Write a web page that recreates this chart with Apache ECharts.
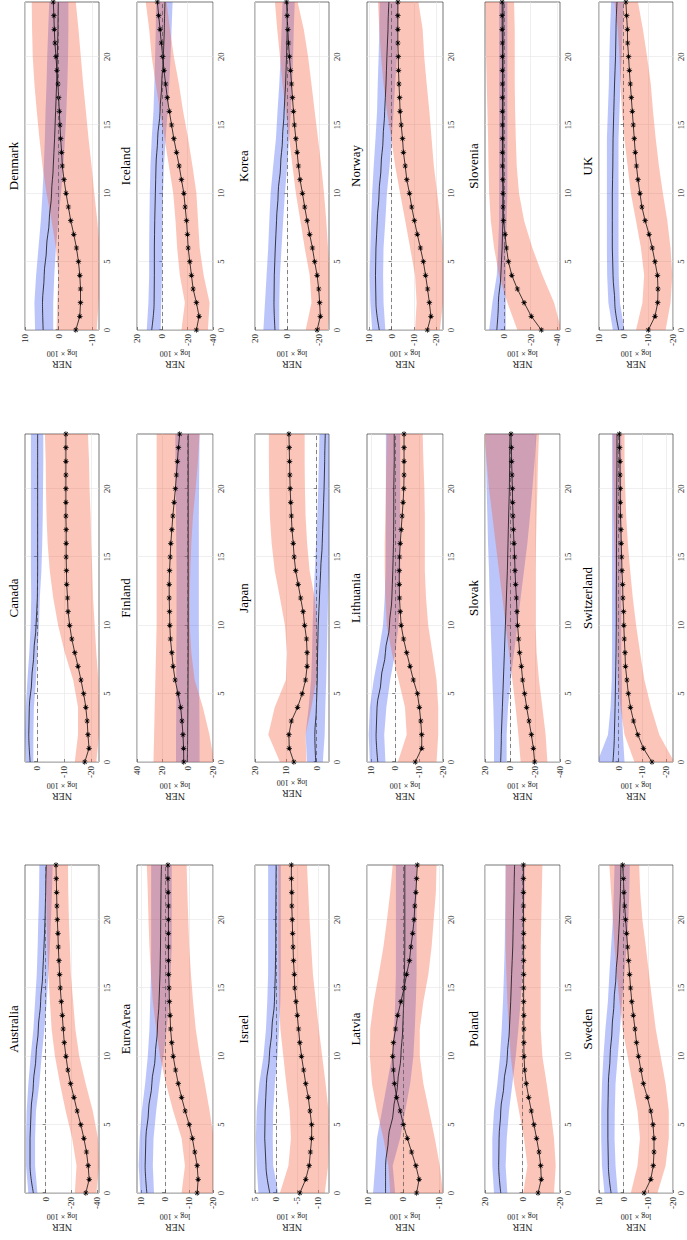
<!DOCTYPE html>
<html><head><meta charset="utf-8">
<script src="https://cdn.jsdelivr.net/npm/echarts@6/dist/echarts.min.js"></script>
<style>
html,body{margin:0;padding:0;background:#fff;overflow:hidden;width:687px;height:1240px;}
#wrap{position:absolute;left:0;top:0;width:1240px;height:687px;transform-origin:0 0;transform:translate(0px,1240px) rotate(-90deg);}
#chart{width:1240px;height:687px;}
</style></head><body>
<div id="wrap"><div id="chart"></div></div>
<script>
// ---------------- data ----------------
const HORIZONS = [0,1,2,3,4,5,6,7,8,9,10,11,12,13,14,15,16,17,18,19,20,21,22,23,24];
const BAND_HORIZONS = [0,2,4,6,8,10,12,14,16,18,20,22,24];
const X_TICKS = [0,5,10,15,20];
const COUNTRIES = ['Australia','Canada','Denmark','EuroArea','Finland','Iceland','Israel','Japan','Korea',
  'Latvia','Lithuania','Norway','Poland','Slovak','Slovenia','Sweden','Switzerland','UK'];
const Y_MIN = [-41.3,-23,-12,-20,-20,-40,-12.5,-4,-26,-11.1,-20,-23,-20,-40,-42,-20,-23,-20];
const Y_MAX = [16,4.5,10,11.7,40,20,5,20,20,10.2,11.8,11,20,20,14,10,8.3,10];
const Y_TICKS = [[-40,-20,0],[-20,-10,0],[-10,0,10],[-20,-10,0,10],[-20,0,20,40],[-40,-20,0,20],
  [-10,-5,0,5],[0,10,20],[-20,0,20],[-10,0,10],[-20,-10,0,10],[-20,-10,0,10],[-20,0,20],
  [-40,-20,0,20],[-40,-20,0],[-20,-10,0,10],[-20,-10,0],[-20,-10,0,10]];

// Australia
const AUS_BLUE_MED = [9.5,12.1,12.1,11.3,9.5,7.5,5.7,3.9,2.3,1.3,0.5,0,-0.5];
const AUS_BLUE_HI  = [13.4,15.2,15.2,14.7,13.4,11.6,9.5,8.2,6.9,6.2,5.7,5.1,4.9];
const AUS_BLUE_LO  = [6.4,8.2,8.2,7.5,4.9,3.1,1.0,-0.8,-2.1,-3.3,-4.1,-4.9,-5.4];
const AUS_RED_MED  = [-31.1,-33.7,-32.9,-31.6,-29.6,-27.2,-24.4,-21.9,-19.3,-17.2,-15.7,-14.4,-13.6,-12.9,-12.1,-11.3,-10.8,-10.3,-9.8,-9.5,-9.0,-8.7,-8.5,-8.2,-8.0];
const AUS_RED_HI   = [-22.6,-23.9,-20.5,-15.5,-11.1,-7.2,-4.6,-3.3,-2.1,-1.3,-0.8,-0.3,-0.3];
const AUS_RED_LO   = [-39.3,-41.3,-40.5,-36.5,-31.0,-26.0,-23.0,-21.3,-19.5,-18.8,-18.0,-17.5,-17.3];
// Canada
const CAN_BLUE_MED = [2.6,3.1,2.9,2.0,1.2,0.4,-0.1,-0.2,-0.2,-0.2,-0.2,-0.2,-0.2];
const CAN_BLUE_HI  = [4.1,4.5,4.2,3.6,2.9,2.4,2.2,2.3,2.3,2.3,2.3,2.3,2.3];
const CAN_BLUE_LO  = [1.4,1.4,1.2,0.4,-0.1,-0.7,-1.0,-1.6,-1.9,-2.1,-2.2,-2.3,-2.3];
const CAN_RED_MED  = [-17.7,-19.3,-18.9,-18.6,-18.1,-17.3,-16.3,-15.2,-14.0,-12.9,-12.1,-11.5,-11.3,-11.0,-10.9,-10.8,-10.8,-10.8,-10.7,-10.7,-10.7,-10.7,-10.7,-10.7,-10.7];
const CAN_RED_HI   = [-14.0,-15.2,-15.2,-13.4,-10.3,-7.8,-6.0,-4.7,-3.9,-3.5,-3.3,-3.2,-2.9];
const CAN_RED_LO   = [-22.0,-23.0,-23.0,-22.8,-22.0,-21.4,-20.8,-20.5,-20.1,-19.9,-19.5,-19.3,-18.9];
// Denmark
const DNK_BLUE_MED = [4.6,4.8,4.3,3.6,2.8,2.1,1.6,1.2,0.9,0.6,0.4,0.2,0.1];
const DNK_BLUE_HI  = [7.0,7.2,6.7,6.0,5.3,4.8,4.4,4.1,3.9,3.6,3.4,3.1,2.8];
const DNK_BLUE_LO  = [1.6,1.6,1.3,0.8,0.1,-0.7,-1.4,-1.9,-2.3,-2.6,-2.8,-2.9,-2.9];
const DNK_RED_MED  = [-5.1,-6.3,-6.5,-6.5,-6.3,-5.9,-5.3,-4.5,-3.6,-2.9,-2.2,-1.6,-1.1,-0.9,-0.6,-0.4,-0.2,0,0.2,0.5,0.8,1.1,1.3,1.4,1.6];
const DNK_RED_HI   = [0.6,0.4,0.1,0.8,2.1,3.6,4.8,5.7,6.5,7.2,7.7,7.9,8.0];
const DNK_RED_LO   = [-11.3,-11.9,-12.3,-12.2,-11.5,-10.6,-9.8,-8.9,-8.1,-7.3,-6.6,-5.9,-5.1];
// EuroArea
const EA_BLUE_MED = [7.6,8.3,8.0,6.9,5.5,4.1,3.2,2.5,2.1,1.9,1.8,1.7,1.5];
const EA_BLUE_HI  = [10.3,11.0,10.6,9.7,8.3,7.2,6.5,6.2,5.9,5.8,5.8,5.8,5.8];
const EA_BLUE_LO  = [4.6,5.1,4.8,3.7,2.3,0.7,-0.7,-1.8,-2.3,-2.8,-2.8,-2.8,-2.8];
const EA_RED_MED  = [-13.4,-13.8,-13.4,-12.4,-11.4,-10.1,-8.4,-6.9,-5.5,-4.4,-3.4,-2.8,-2.3,-2.1,-1.8,-1.7,-1.5,-1.4,-1.4,-1.4,-1.4,-1.4,-1.3,-1.2,-1.2];
const EA_RED_HI   = [-6.9,-8.3,-6.9,-3.4,-0.4,2.1,3.7,5.1,5.9,6.5,6.9,7.2,7.6];
const EA_RED_LO   = [-20.5,-20.5,-20.3,-18.6,-16.6,-14.5,-12.8,-11.7,-10.8,-10.1,-9.7,-9.3,-9.0];
// Finland
const FIN_BLUE_MED = [0.3,0,-0.2,-0.3,-0.4,-0.4,-0.4,-0.4,-0.4,-0.4,-0.4,-0.4,-0.4];
const FIN_BLUE_HI  = [9.2,9.2,9.0,9.0,9.0,8.8,8.8,8.8,9.0,9.2,9.4,9.6,9.8];
const FIN_BLUE_LO  = [-9.4,-9.4,-9.2,-9.0,-9.0,-8.8,-8.8,-8.8,-8.8,-8.8,-9.0,-9.2,-9.4];
const FIN_RED_MED  = [3.1,3.2,3.7,4.5,5.5,7.6,9.9,11.5,12.5,13.6,14.1,14.3,14.6,14.6,14.3,13.8,13.3,12.5,11.7,10.7,9.7,8.9,8.1,7.3,6.3];
const FIN_RED_HI   = [27,26.5,26,25.5,25,24.5,24.5,24.5,24.5,24.5,24.5,24.5,24.5];
const FIN_RED_LO   = [-21,-17.2,-12.0,-5.5,-2.9,-1.6,-1.6,-2.1,-2.9,-4.2,-6.3,-8.1,-9.4];
// Iceland
const ISL_BLUE_MED = [8.4,6.5,6.3,6.3,6.0,5.5,5.0,3.7,1.8,0.5,-0.8,-1.6,-2.1];
const ISL_BLUE_HI  = [12.3,11.0,10.4,10.4,10.2,9.9,9.4,8.4,7.0,6.3,5.7,5.2,5.0];
const ISL_BLUE_LO  = [1.3,0.8,0.3,0.3,0,-0.5,-1.3,-2.6,-4.2,-5.5,-6.5,-7.3,-8.1];
const ISL_RED_MED  = [-26.9,-29.0,-26.9,-24.3,-23.0,-21.7,-20.4,-19.8,-19.1,-18.0,-17.0,-15.1,-13.3,-11.2,-9.1,-7.3,-5.5,-3.9,-2.6,-1.3,-0.3,0.8,1.8,2.9,3.9];
const ISL_RED_HI   = [-15.1,-17.8,-13.8,-11.7,-10.4,-8.6,-5.2,-1.8,1.8,5.2,8.4,10.4,13.1];
const ISL_RED_LO   = [-36.0,-37.3,-32.6,-29.5,-28.2,-26.9,-23.8,-20.4,-16.4,-13.1,-9.1,-6.0,-3.4];
// Israel
const ISR_BLUE_MED = [1.5,2.4,2.7,2.6,2.3,1.6,1.0,0.4,0.2,0.1,0.1,0.05,0];
const ISR_BLUE_HI  = [4.2,4.6,4.8,4.6,4.0,3.0,2.4,2.1,1.9,1.9,1.9,1.9,1.9];
const ISR_BLUE_LO  = [-0.5,0.7,0.8,0.7,0.3,-0.3,-0.7,-1.0,-1.1,-1.1,-1.1,-1.1,-1.1];
const ISR_RED_MED  = [-5.6,-7.0,-7.8,-8.1,-8.4,-8.4,-8.0,-7.6,-7.0,-6.5,-6.0,-5.6,-5.3,-5.0,-4.7,-4.4,-4.3,-4.1,-4.0,-3.9,-3.8,-3.7,-3.7,-3.6,-3.6];
const ISR_RED_HI   = [-0.9,-2.9,-3.5,-3.2,-2.4,-1.7,-1.0,-0.7,-0.6,-0.5,-0.5,-0.5,-0.5];
const ISR_RED_LO   = [-11.5,-12.3,-12.5,-12.4,-11.7,-10.9,-10.1,-9.4,-8.7,-8.3,-7.9,-7.6,-7.3];
// Japan
const JPN_BLUE_MED = [0.3,0.6,0.1,-0.2,-0.3,-0.5,-0.9,-1.3,-1.8,-2.1,-2.4,-2.6,-2.8];
const JPN_BLUE_HI  = [3.1,3.6,2.6,1.8,1.5,1.3,1.0,0.6,0.2,-0.2,-0.5,-0.7,-0.9];
const JPN_BLUE_LO  = [-2.0,-2.6,-2.8,-3.1,-3.3,-3.5,-3.7,-4.0,-4.3,-4.5,-4.6,-4.7,-4.8];
const JPN_RED_MED  = [7.4,8.9,9.0,8.2,6.2,4.7,3.6,3.1,3.1,3.3,3.9,4.4,5.2,6.0,6.8,7.3,7.6,8.0,8.2,8.4,8.6,8.7,8.8,8.9,9.0];
const JPN_RED_HI   = [11.9,15.7,13.6,10.0,9.6,10.3,11.9,13.6,14.6,15.2,15.4,15.5,15.5];
const JPN_RED_LO   = [3.3,3.6,1.7,0.1,-0.4,-0.1,0.6,2.3,3.1,3.6,3.8,3.9,3.9];
// Korea
const KOR_BLUE_MED = [7.6,8.2,8.0,7.4,6.6,5.6,4.1,2.9,1.9,1.0,0.4,0,-0.2];
const KOR_BLUE_HI  = [14.8,13.8,12.8,11.8,11.1,10.3,8.7,7.0,6.0,4.9,4.1,3.5,2.9];
const KOR_BLUE_LO  = [4.9,4.9,4.5,3.5,2.5,1.4,0,-1.2,-2.3,-3.1,-3.7,-4.1,-4.7];
const KOR_RED_MED  = [-18.6,-20.6,-20.2,-19.6,-18.6,-17.1,-15.7,-14.0,-12.4,-10.9,-9.5,-8.0,-7.0,-6.2,-5.4,-4.5,-3.9,-3.3,-2.7,-2.1,-1.4,-0.8,-0.4,0,0.4];
const KOR_RED_HI   = [-11.5,-15.1,-14.0,-10.9,-8.2,-5.4,-3.3,-1.2,0.8,2.9,4.5,6.2,7.6];
const KOR_RED_LO   = [-25.4,-26.5,-26.5,-25.4,-24.3,-22.9,-21.2,-19.2,-17.1,-15.1,-13.0,-10.3,-6.5];
// Latvia
const LVA_BLUE_MED = [5.0,5.0,4.2,2.8,1.6,0.7,0.2,-0.1,-0.3,-0.4,-0.4,-0.4,-0.4];
const LVA_BLUE_HI  = [8.5,7.9,7.4,6.0,4.6,3.2,2.6,2.3,2.1,2.1,2.1,2.1,2.1];
const LVA_BLUE_LO  = [2.3,3.0,0.9,-0.5,-1.9,-2.8,-3.2,-3.5,-3.7,-3.7,-3.7,-3.7,-3.7];
const LVA_RED_MED  = [-3.7,-4.4,-3.5,-2.3,-1.1,0,0.9,1.9,2.5,2.8,3.0,2.8,2.2,1.6,0.7,-0.2,-0.9,-1.7,-2.1,-2.6,-3.0,-3.2,-3.5,-3.7,-3.9];
const LVA_RED_HI   = [3.7,4.2,5.6,7.4,8.8,9.4,9.3,8.3,6.9,5.6,4.6,3.7,3.0];
const LVA_RED_LO   = [-11.1,-10.2,-8.8,-7.2,-5.6,-4.6,-4.6,-5.6,-7.0,-7.9,-8.5,-9.1,-9.3];
// Lithuania
const LTU_BLUE_MED = [7.3,8.0,7.6,5.9,4.1,2.4,1.4,1.0,0.7,0.6,0.6,0.4,0.4];
const LTU_BLUE_HI  = [10.6,11.1,10.6,9.0,6.9,5.1,4.4,4.0,3.9,3.9,3.9,3.9,3.9];
const LTU_BLUE_LO  = [4.1,4.6,3.7,2.1,0,-1.4,-1.8,-2.1,-2.1,-2.1,-2.1,-2.1,-2.1];
const LTU_RED_MED  = [-8.4,-11.1,-11.1,-10.7,-10.1,-9.3,-7.6,-6.2,-4.8,-3.5,-2.5,-2.1,-1.8,-1.7,-1.7,-1.8,-2.1,-2.5,-2.9,-3.3,-3.6,-3.7,-3.7,-3.7,-3.7];
const LTU_RED_HI   = [-1.1,-4.8,-4.1,-1.4,1.4,3.5,4.1,4.4,4.4,4.1,3.9,3.7,3.5];
const LTU_RED_LO   = [-17.3,-18.0,-18.0,-17.3,-15.6,-13.8,-12.9,-12.4,-12.4,-12.4,-12.2,-11.8,-11.5];
// Norway
const NOR_BLUE_MED = [5.5,7.0,7.2,7.0,6.4,5.6,4.7,3.8,3.1,2.5,2.1,1.6,1.2];
const NOR_BLUE_HI  = [8.7,9.5,9.8,9.5,9.2,8.7,8.0,7.2,6.5,6.2,5.8,5.5,5.3];
const NOR_BLUE_LO  = [2.8,3.6,3.8,3.6,2.8,2.1,0.9,-0.1,-0.9,-1.6,-2.4,-2.8,-3.1];
const NOR_RED_MED  = [-16.0,-17.6,-16.9,-16.1,-15.2,-14.2,-12.9,-11.5,-10.2,-9.0,-8.0,-6.8,-6.1,-5.3,-4.9,-4.3,-3.8,-3.6,-3.3,-3.1,-3.0,-2.8,-2.8,-2.8,-2.8];
const NOR_RED_HI   = [-10.5,-11.2,-10.5,-8.3,-6.1,-3.8,-1.6,0.1,2.1,3.6,4.7,5.5,6.1];
const NOR_RED_LO   = [-21.6,-23.0,-23.0,-22.8,-21.9,-20.4,-18.9,-17.9,-16.9,-15.7,-14.6,-13.9,-12.0];
// Poland
const POL_BLUE_MED = [11.6,12.7,12.5,11.6,9.9,8.1,7.0,6.3,5.8,5.2,4.9,4.5,4.2];
const POL_BLUE_HI  = [15.2,16.1,16.1,15.2,13.4,12.0,11.1,10.4,9.9,9.5,9.3,9.1,9.0];
const POL_BLUE_LO  = [8.1,9.0,8.4,7.2,5.4,3.6,2.2,1.0,0.1,-0.4,-0.8,-1.2,-1.3];
const POL_RED_MED  = [-8.3,-10.0,-9.7,-8.8,-7.5,-6.1,-4.7,-3.3,-2.0,-1.2,-0.8,-0.7,-0.7,-0.7,-0.6,-0.6,-0.6,-0.6,-0.6,-0.6,-0.6,-0.5,-0.5,-0.5,-0.5];
const POL_RED_HI   = [-0.4,-2.6,-0.8,1.9,4.5,6.3,7.2,8.1,8.6,9.0,9.0,9.0,9.0];
const POL_RED_LO   = [-16.8,-17.7,-16.8,-15.0,-12.9,-10.6,-9.7,-9.7,-9.7,-9.7,-10.0,-10.3,-10.6];
// Slovak
const SVK_BLUE_MED = [7.5,6.9,6.1,5.3,4.5,3.7,2.9,2.1,1.6,1.1,0.5,0.3,0];
const SVK_BLUE_HI  = [12.8,12.8,13.3,14.1,14.7,15.5,16.3,16.8,17.6,18.1,18.7,19.2,19.5];
const SVK_BLUE_LO  = [2.7,2.7,1.6,-0.5,-3.2,-5.9,-8.5,-11.2,-13.9,-16.0,-17.9,-19.7,-21.3];
const SVK_RED_MED  = [-19.7,-18.7,-17.1,-15.2,-13.3,-11.7,-10.1,-9.1,-7.7,-6.9,-6.1,-5.6,-5.1,-4.5,-4.0,-3.7,-3.2,-2.7,-2.4,-2.1,-1.9,-1.6,-1.3,-1.1,-0.8];
const SVK_RED_HI   = [-8.5,-6.7,-4.5,-1.9,0.8,3.5,6.1,8.8,11.5,14.1,16.8,18.7,20.5];
const SVK_RED_LO   = [-29.9,-28.5,-25.9,-23.2,-21.3,-20.5,-20.5,-20.5,-20.8,-21.3,-21.9,-22.4,-23.2];
// Slovenia
const SVN_BLUE_MED = [5.2,4.0,2.2,1.2,0.7,0.5,0.5,0.5,0.5,0.5,0.5,0.5,0.5];
const SVN_BLUE_HI  = [10.9,8.5,5.2,4.2,3.5,3.5,3.5,3.5,3.5,3.5,3.5,3.5,3.5];
const SVN_BLUE_LO  = [-1.5,-1.5,-1.5,-1.5,-2.2,-2.7,-2.7,-2.7,-2.7,-2.7,-2.7,-2.7,-2.7];
const SVN_RED_MED  = [-28.1,-20.6,-15.2,-10.2,-6.0,-3.5,-2.0,-1.0,0.2,0.5,0.5,0.7,1.0,1.0,1.0,1.0,1.0,1.0,1.0,1.0,1.0,1.0,1.2,1.2,1.2];
const SVN_RED_HI   = [-10.2,-2.7,3.5,7.2,9.7,10.9,11.4,11.7,12.2,12.7,13.2,13.4,13.7];
const SVN_RED_LO   = [-43,-37.6,-28.9,-21.4,-15.2,-11.4,-9.7,-9.0,-8.5,-8.2,-8.2,-8.2,-7.7];
// Sweden
const SWE_BLUE_MED = [5.1,6.2,6.4,6.4,6.2,5.5,4.7,3.9,3.1,2.3,1.7,1.3,1.1];
const SWE_BLUE_HI  = [7.8,8.8,9.1,9.1,8.8,8.2,7.4,6.4,5.8,5.1,4.4,4.0,3.7];
const SWE_BLUE_LO  = [2.4,3.3,3.7,3.6,3.3,2.4,1.5,0.7,-0.3,-1.2,-1.9,-2.3,-2.5];
const SWE_RED_MED  = [-8.3,-11.0,-12.0,-12.3,-12.3,-11.9,-11.0,-9.6,-8.0,-7.0,-6.0,-5.2,-4.6,-3.9,-3.3,-2.8,-2.4,-2.0,-1.6,-1.2,-0.8,-0.4,-0.1,0.1,0.4];
const SWE_RED_HI   = [-2.9,-5.6,-6.6,-5.6,-3.6,-1.6,0.4,1.7,2.8,3.7,4.4,5.1,5.8];
const SWE_RED_LO   = [-13.7,-17.0,-18.3,-18.3,-17.0,-15.0,-13.0,-11.6,-10.3,-9.0,-7.6,-6.7,-6.3];
// Switzerland
const CHE_BLUE_MED = [2.4,1.8,1.5,1.3,1.1,1.0,1.0,0.9,0.9,0.8,0.8,0.7,0.7];
const CHE_BLUE_HI  = [9.0,4.5,3.4,2.9,2.8,2.8,2.8,2.8,2.8,2.8,2.8,2.8,2.8];
const CHE_BLUE_LO  = [-2.5,-1.8,-1.4,-1.4,-1.1,-1.1,-1.1,-1.1,-1.1,-1.1,-1.1,-1.1,-1.1];
const CHE_RED_MED  = [-14.1,-10.5,-8.1,-6.3,-5.0,-4.1,-3.5,-2.9,-2.7,-2.4,-2.2,-2.1,-1.8,-1.7,-1.4,-1.3,-1.1,-1.0,-0.8,-0.7,-0.7,-0.6,-0.6,-0.4,-0.3];
const CHE_RED_HI   = [-6.7,-2.5,-0.8,0.3,0.7,1.0,1.3,1.5,1.8,2.1,2.2,2.4,2.4];
const CHE_RED_LO   = [-23.5,-17.2,-13.7,-10.9,-9.1,-7.4,-6.0,-4.9,-3.9,-3.2,-2.8,-2.5,-2.5];
// UK
const GBR_BLUE_MED = [2.0,3.6,4.3,4.6,4.6,4.6,4.4,4.3,4.0,3.7,3.3,3.1,2.7];
const GBR_BLUE_HI  = [4.4,6.2,6.7,6.8,6.8,6.8,6.8,6.8,6.4,6.0,5.8,5.5,5.1];
const GBR_BLUE_LO  = [-0.3,1.5,2.0,2.1,2.1,2.1,2.1,2.1,1.7,1.3,0.8,0.4,0];
const GBR_RED_MED  = [-10.0,-12.7,-13.8,-13.9,-13.7,-12.7,-11.6,-10.3,-8.7,-7.4,-6.6,-5.8,-5.2,-4.7,-4.3,-3.9,-3.5,-3.1,-2.7,-2.3,-2.0,-1.6,-1.5,-1.2,-0.9];
const GBR_RED_HI   = [-5.0,-7.6,-8.3,-7.0,-5.0,-2.9,-1.6,-0.3,0.7,1.3,1.7,2.4,3.7];
const GBR_RED_LO   = [-17.0,-19.0,-19.7,-19.0,-17.7,-15.9,-14.3,-13.0,-11.9,-11.0,-9.5,-7.8,-5.8];

// lookup table built from the named arrays
const TABLE = {
  Australia:  [AUS_BLUE_MED,AUS_BLUE_LO,AUS_BLUE_HI,AUS_RED_MED,AUS_RED_LO,AUS_RED_HI],
  Canada:     [CAN_BLUE_MED,CAN_BLUE_LO,CAN_BLUE_HI,CAN_RED_MED,CAN_RED_LO,CAN_RED_HI],
  Denmark:    [DNK_BLUE_MED,DNK_BLUE_LO,DNK_BLUE_HI,DNK_RED_MED,DNK_RED_LO,DNK_RED_HI],
  EuroArea:   [EA_BLUE_MED,EA_BLUE_LO,EA_BLUE_HI,EA_RED_MED,EA_RED_LO,EA_RED_HI],
  Finland:    [FIN_BLUE_MED,FIN_BLUE_LO,FIN_BLUE_HI,FIN_RED_MED,FIN_RED_LO,FIN_RED_HI],
  Iceland:    [ISL_BLUE_MED,ISL_BLUE_LO,ISL_BLUE_HI,ISL_RED_MED,ISL_RED_LO,ISL_RED_HI],
  Israel:     [ISR_BLUE_MED,ISR_BLUE_LO,ISR_BLUE_HI,ISR_RED_MED,ISR_RED_LO,ISR_RED_HI],
  Japan:      [JPN_BLUE_MED,JPN_BLUE_LO,JPN_BLUE_HI,JPN_RED_MED,JPN_RED_LO,JPN_RED_HI],
  Korea:      [KOR_BLUE_MED,KOR_BLUE_LO,KOR_BLUE_HI,KOR_RED_MED,KOR_RED_LO,KOR_RED_HI],
  Latvia:     [LVA_BLUE_MED,LVA_BLUE_LO,LVA_BLUE_HI,LVA_RED_MED,LVA_RED_LO,LVA_RED_HI],
  Lithuania:  [LTU_BLUE_MED,LTU_BLUE_LO,LTU_BLUE_HI,LTU_RED_MED,LTU_RED_LO,LTU_RED_HI],
  Norway:     [NOR_BLUE_MED,NOR_BLUE_LO,NOR_BLUE_HI,NOR_RED_MED,NOR_RED_LO,NOR_RED_HI],
  Poland:     [POL_BLUE_MED,POL_BLUE_LO,POL_BLUE_HI,POL_RED_MED,POL_RED_LO,POL_RED_HI],
  Slovak:     [SVK_BLUE_MED,SVK_BLUE_LO,SVK_BLUE_HI,SVK_RED_MED,SVK_RED_LO,SVK_RED_HI],
  Slovenia:   [SVN_BLUE_MED,SVN_BLUE_LO,SVN_BLUE_HI,SVN_RED_MED,SVN_RED_LO,SVN_RED_HI],
  Sweden:     [SWE_BLUE_MED,SWE_BLUE_LO,SWE_BLUE_HI,SWE_RED_MED,SWE_RED_LO,SWE_RED_HI],
  Switzerland:[CHE_BLUE_MED,CHE_BLUE_LO,CHE_BLUE_HI,CHE_RED_MED,CHE_RED_LO,CHE_RED_HI],
  UK:         [GBR_BLUE_MED,GBR_BLUE_LO,GBR_BLUE_HI,GBR_RED_MED,GBR_RED_LO,GBR_RED_HI]
};

// ---------------- layout & style ----------------
const COL_LEFT = [47, 478, 910];
const ROW_TOP = [25, 137, 255, 367, 485, 599];
const ROW_H = [74, 76, 74, 76, 75, 74];
const PLOT_W = 328;
const FONT = "'Liberation Serif', 'DejaVu Serif', serif";
const BLUE_FILL = 'rgba(60,90,240,0.35)';
const RED_FILL = 'rgba(245,90,55,0.35)';
const AST = 'path://M-0.13,-1L0.13,-1L0.13,1L-0.13,1Z M-1,-0.13L1,-0.13L1,0.13L-1,0.13Z M-0.61,-0.79L0.79,0.61L0.61,0.79L-0.79,-0.61Z M-0.61,0.79L-0.79,0.61L0.61,-0.79L0.79,-0.61Z';

function bandSeries(i, lo, hi, color) {
  const items = BAND_HORIZONS.map((h, k) => [h, lo[k], hi[k]]);
  return {
    type: 'custom', xAxisIndex: i, yAxisIndex: i, clip: true, silent: true, z: 1,
    data: items, encode: { x: 0, y: [1, 2] },
    renderItem: function (params, api) {
      if (params.dataIndex !== 0) return null;
      const upper = items.map(d => api.coord([d[0], d[2]]));
      const lower = items.slice().reverse().map(d => api.coord([d[0], d[1]]));
      return { type: 'polygon', shape: { points: upper.concat(lower) }, style: { fill: color } };
    }
  };
}

const grids = [], xAxes = [], yAxes = [], series = [], titles = [];
COUNTRIES.forEach((name, i) => {
  const r = Math.floor(i / 3), c = i % 3;
  const [bMed, bLo, bHi, rMed, rLo, rHi] = TABLE[name];
  grids.push({ left: COL_LEFT[c], top: ROW_TOP[r], width: PLOT_W, height: ROW_H[r],
    show: true, borderColor: '#3c3c3c', borderWidth: 0.7, backgroundColor: 'transparent',
    containLabel: false, outerBoundsMode: 'none' });
  titles.push({ text: name, left: COL_LEFT[c] + PLOT_W / 2, top: ROW_TOP[r] - 18, textAlign: 'center', padding: 0,
    textStyle: { fontFamily: FONT, fontSize: 13, fontWeight: 'normal', color: '#000' } });
  xAxes.push({ type: 'value', gridIndex: i, min: 0, max: 24,
    axisLine: { show: false },
    axisTick: { show: true, inside: true, length: 3, customValues: X_TICKS, lineStyle: { color: '#3c3c3c', width: 0.6 } },
    axisLabel: { customValues: X_TICKS, fontSize: 8.5, margin: 3, lineHeight: 9, color: '#262626', fontFamily: FONT },
    splitLine: { show: true, lineStyle: { color: '#e4e4e4', width: 0.6 } } });
  yAxes.push({ type: 'value', gridIndex: i, min: Y_MIN[i], max: Y_MAX[i],
    axisLine: { show: false },
    axisTick: { show: true, inside: true, length: 3, customValues: Y_TICKS[i], lineStyle: { color: '#3c3c3c', width: 0.6 } },
    axisLabel: { customValues: Y_TICKS[i], fontSize: 9, margin: 4, color: '#262626', fontFamily: FONT },
    splitLine: { show: true, lineStyle: { color: '#e4e4e4', width: 0.6 } },
    name: '{a|NER}\n{b|log × 100}', nameLocation: 'middle', nameGap: 15, nameRotate: 90,
    nameTextStyle: { color: '#262626', fontFamily: FONT, rich: {
      a: { fontSize: 10, fontFamily: FONT, color: '#262626', lineHeight: 12 },
      b: { fontSize: 8, fontFamily: FONT, color: '#262626', lineHeight: 10 } } } });
  series.push(bandSeries(i, bLo, bHi, BLUE_FILL));
  series.push(bandSeries(i, rLo, rHi, RED_FILL));
  series.push({ type: 'line', xAxisIndex: i, yAxisIndex: i, z: 3, silent: true,
    data: BAND_HORIZONS.map((h, k) => [h, bMed[k]]), smooth: 0.35, smoothMonotone: 'x',
    symbol: 'none', lineStyle: { color: '#111', width: 0.8 },
    markLine: { silent: true, symbol: ['none', 'none'], label: { show: false }, animation: false,
      lineStyle: { color: '#555', type: [4, 3], width: 0.7 }, data: [{ yAxis: 0 }] } });
  series.push({ type: 'line', xAxisIndex: i, yAxisIndex: i, z: 4, silent: true,
    data: HORIZONS.map((h, k) => [h, rMed[k]]),
    symbol: AST, symbolSize: 5.5, showAllSymbol: true,
    itemStyle: { color: '#000' }, lineStyle: { color: '#111', width: 0.8 } });
});

const chart = echarts.init(document.getElementById('chart'), null, { renderer: 'svg', width: 1240, height: 687 });
chart.setOption({
  animation: false,
  backgroundColor: '#fff',
  title: titles, grid: grids, xAxis: xAxes, yAxis: yAxes, series: series
});
</script>
</body></html>
